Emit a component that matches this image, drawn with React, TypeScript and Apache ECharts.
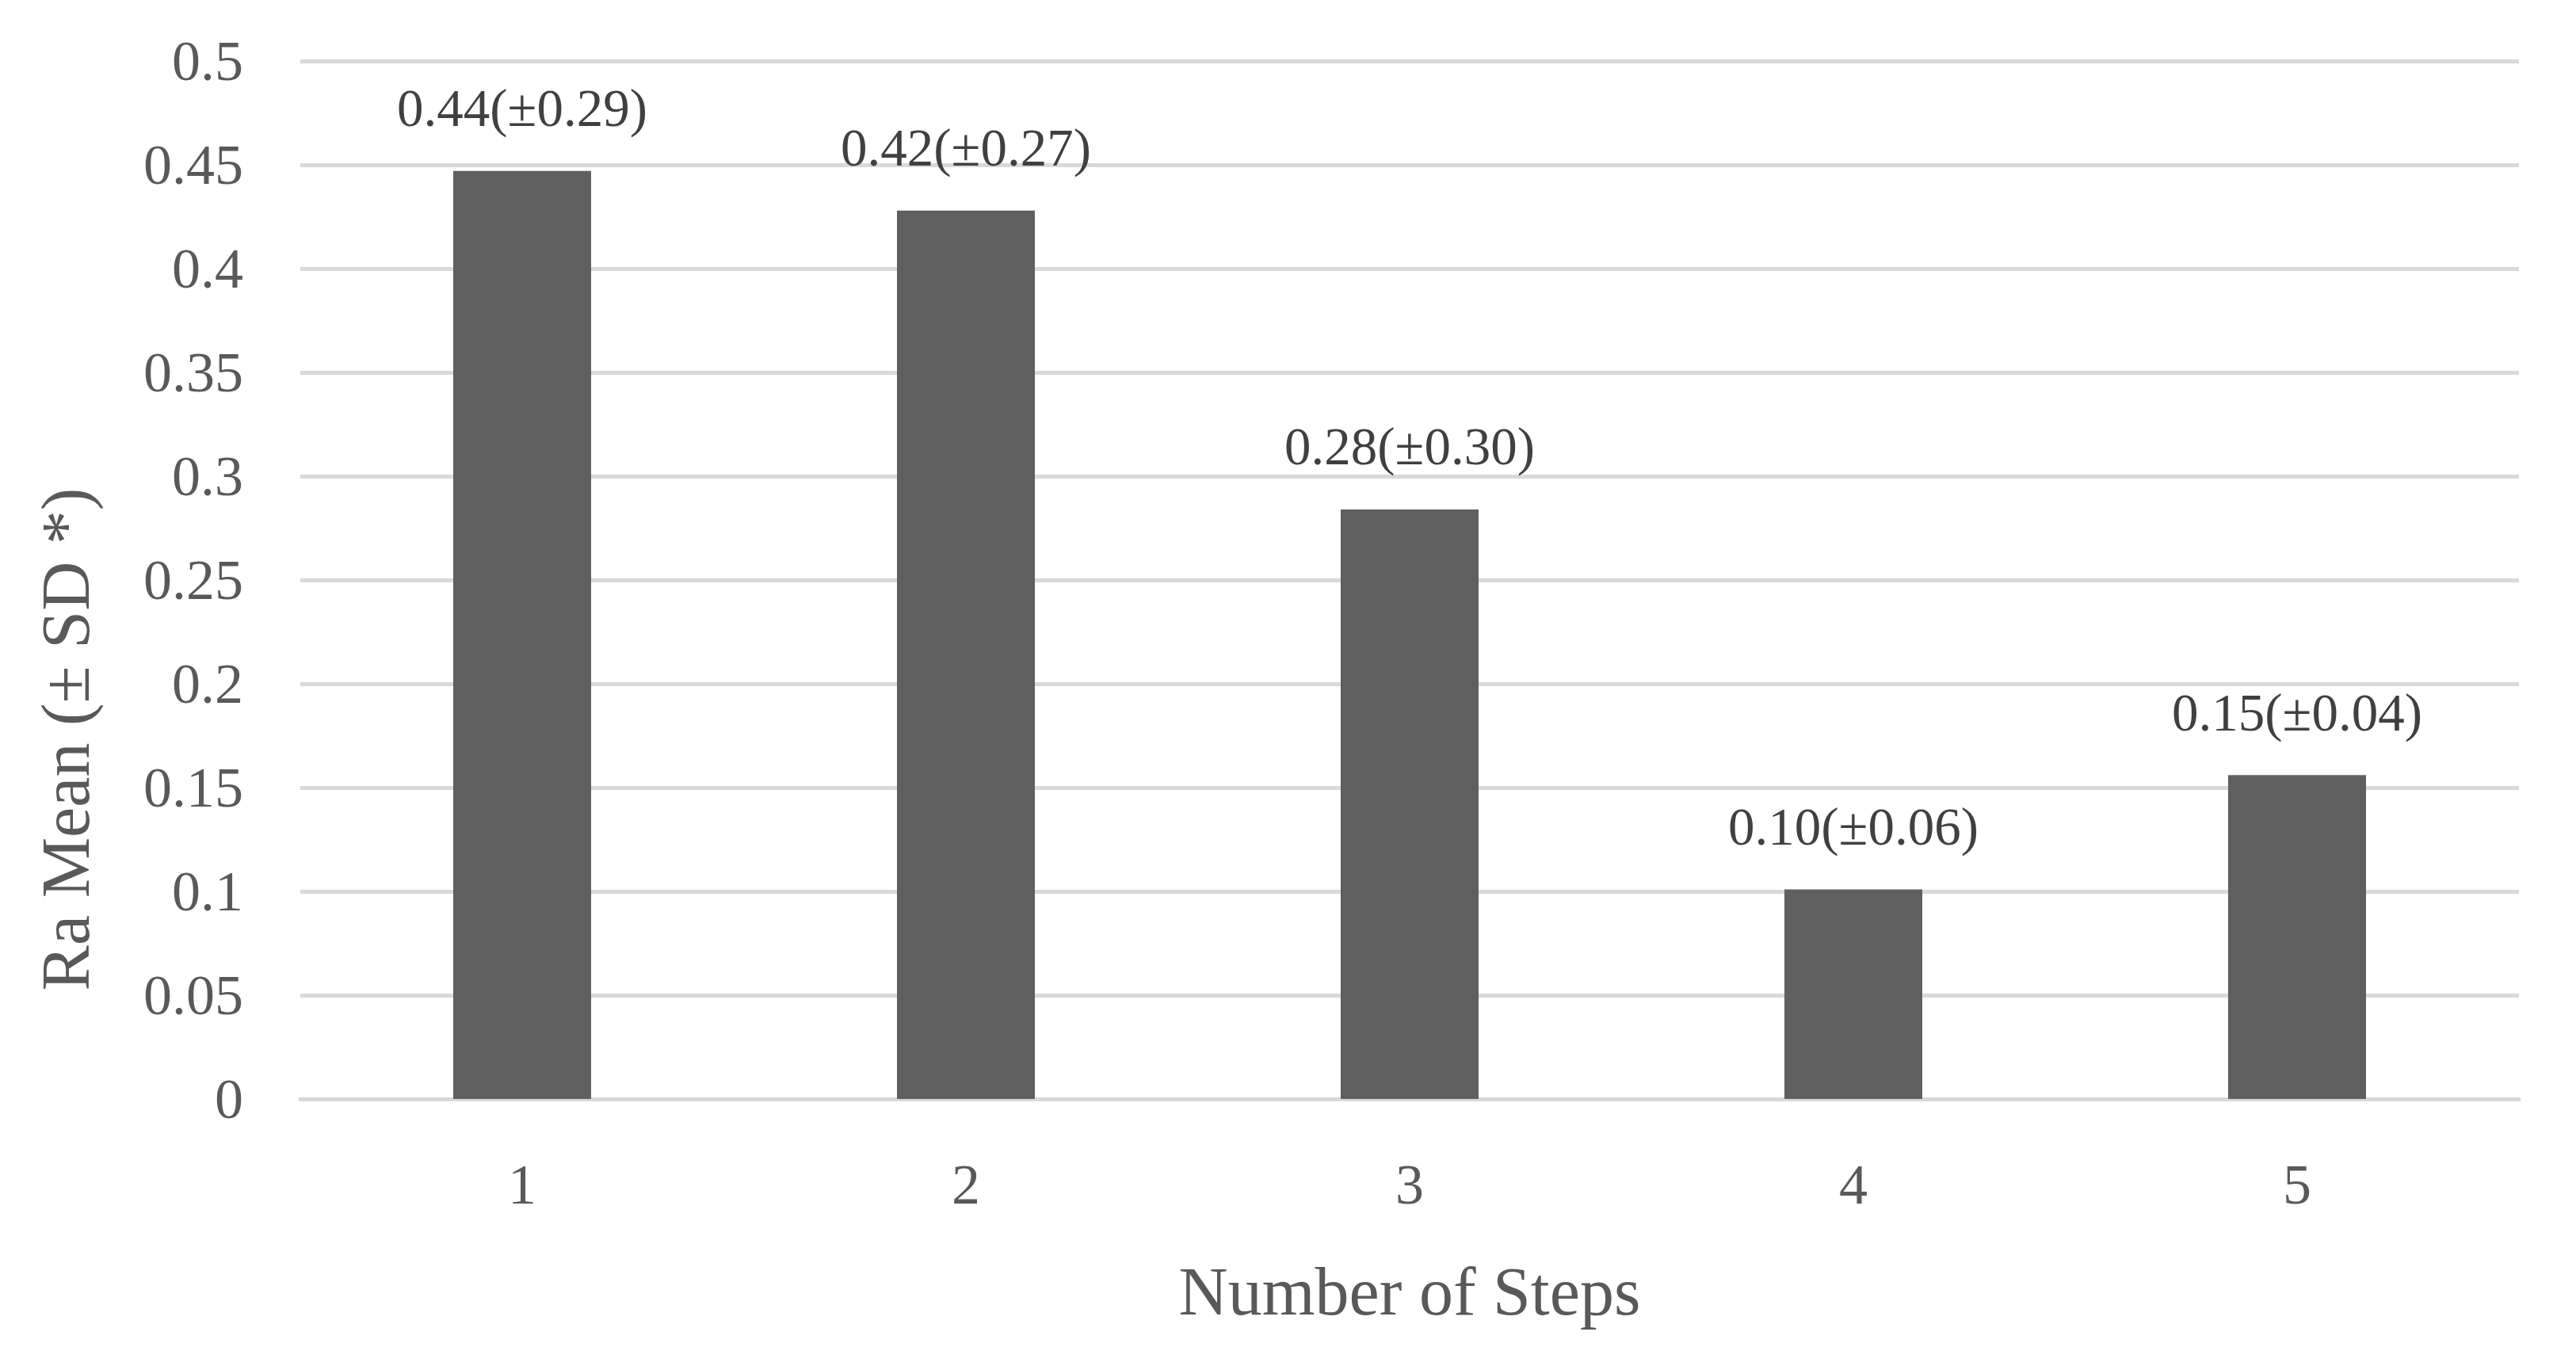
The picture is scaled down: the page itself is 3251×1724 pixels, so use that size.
import React, { useEffect, useRef } from "react";
import * as echarts from "echarts";

const categories = ["1", "2", "3", "4", "5"];
const raMean = [0.447, 0.428, 0.284, 0.101, 0.156];
const barLabels = ["0.44(±0.29)", "0.42(±0.27)", "0.28(±0.30)", "0.10(±0.06)", "0.15(±0.04)"];
const yMin = 0;
const yMax = 0.5;
const yStep = 0.05;
const xTitle = "Number of Steps";
const yTitle = "Ra Mean (± SD *)";

const FONT = "'Liberation Serif', 'DejaVu Serif', serif";
const TEXT = "#595959";

export default function App() {
  const ref = useRef<HTMLDivElement>(null);
  useEffect(() => {
    document.body.style.margin = "0";
    const chart = echarts.init(ref.current!, null, { renderer: "svg" });
    chart.setOption({
      animation: false,
      backgroundColor: "#ffffff",
      grid: { left: 379, right: 72, top: 77, bottom: 337, containLabel: false },
      xAxis: {
        type: "category",
        data: categories,
        axisLine: { show: true, lineStyle: { color: "#d9d9d9", width: 5 } },
        axisTick: { show: false },
        axisLabel: { color: TEXT, fontFamily: FONT, fontSize: 72, margin: 72 },
        name: xTitle,
        nameLocation: "middle",
        nameGap: 200,
        nameTextStyle: { color: TEXT, fontFamily: FONT, fontSize: 86 },
      },
      yAxis: {
        type: "value",
        min: yMin,
        max: yMax,
        interval: yStep,
        axisLine: { show: false },
        axisTick: { show: false },
        splitLine: { lineStyle: { color: "#d9d9d9", width: 5 } },
        axisLabel: {
          color: TEXT,
          fontFamily: FONT,
          fontSize: 72,
          margin: 72,
          formatter: (v: number) => String(+v.toFixed(2)),
        },
      },
      graphic: [
        {
          type: "text",
          x: 83,
          y: 933,
          rotation: Math.PI / 2,
          style: {
            text: yTitle,
            fill: TEXT,
            font: `86px ${FONT}`,
            textAlign: "center",
            textVerticalAlign: "middle",
          },
        },
      ],
      series: [
        {
          type: "bar",
          data: raMean,
          barWidth: 174,
          itemStyle: { color: "#5f5f5f" },
          label: {
            show: true,
            position: "top",
            distance: 46,
            color: "#404040",
            fontFamily: FONT,
            fontSize: 67,
            formatter: (p: any) => barLabels[p.dataIndex],
          },
        },
      ],
    });
    return () => chart.dispose();
  }, []);
  return (
    <div
      ref={ref}
      style={{ position: "fixed", left: 0, top: 0, width: 3251, height: 1724 }}
    />
  );
}
